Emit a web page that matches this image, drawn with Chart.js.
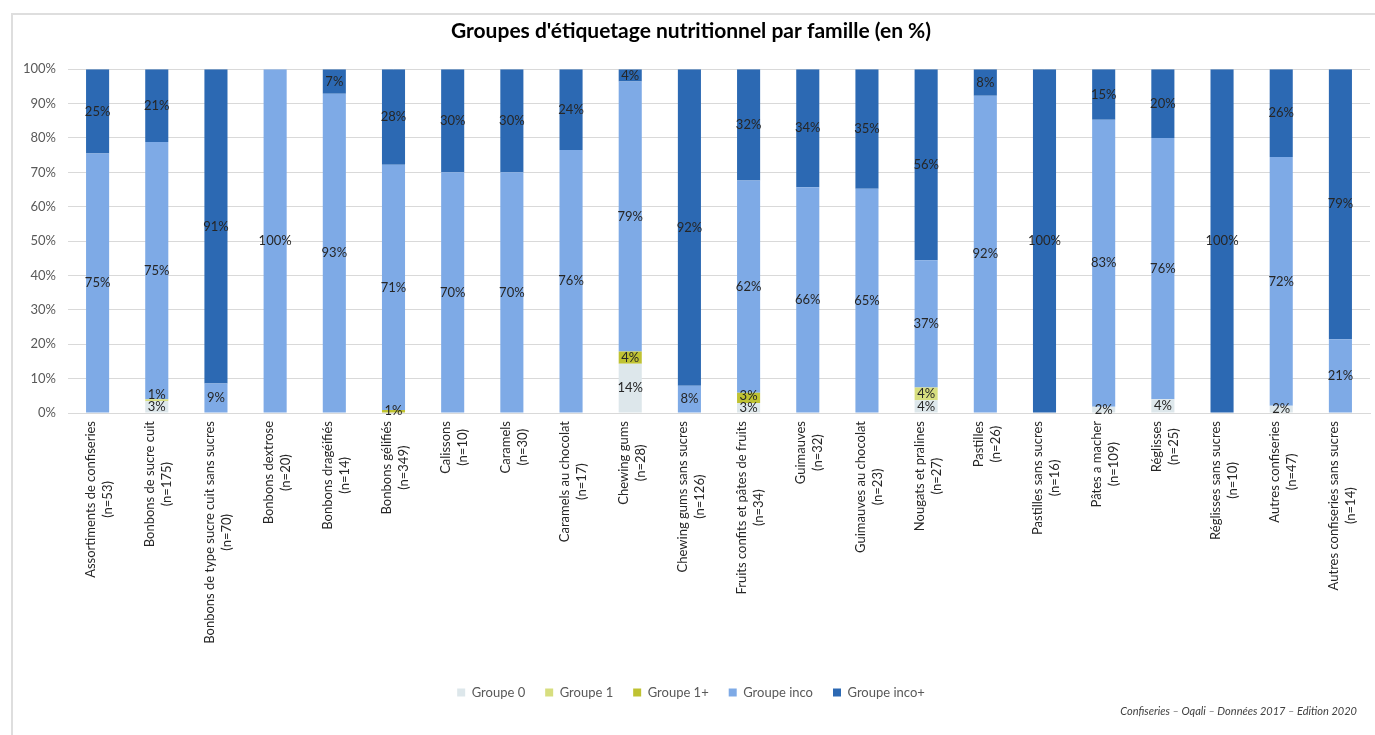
<!DOCTYPE html>
<html lang="fr">
<head>
<meta charset="utf-8">
<title>Groupes d'étiquetage nutritionnel par famille</title>
<script src="https://cdn.jsdelivr.net/npm/chart.js@4.4.1/dist/chart.umd.min.js"></script>
<style>
    html, body { margin: 0; padding: 0; background: #fff; overflow: hidden; }
    #wrap { position: relative; width: 1375px; height: 735px; }
    #frame {
        position: absolute; left: 11px; top: 13px; width: 1400px; height: 800px;
        border-left: 2px solid #dedede; border-top: 2px solid #dedede;
    }
    #chart-box { position: absolute; left: 0; top: 0; width: 1375px; height: 735px; }
    #footnote {
        position: absolute; right: 18px; top: 704px;
        font-family: Lato, sans-serif; font-style: italic; font-size: 11px; color: #404040;
    }
</style>
</head>
<body>
<div id="wrap">
    <div id="frame"></div>
    <div id="chart-box"><canvas id="groupes-chart"></canvas></div>
    <div id="footnote">Confiseries – Oqali – Données 2017 – Edition 2020</div>
</div>
<script>
// Familles et effectifs
const familles = [
    "Assortiments de confiseries", "Bonbons de sucre cuit", "Bonbons de type sucre cuit sans sucres",
    "Bonbons dextrose", "Bonbons dragéifiés", "Bonbons gélifiés", "Calissons", "Caramels",
    "Caramels au chocolat", "Chewing gums", "Chewing gums sans sucres",
    "Fruits confits et pâtes de fruits", "Guimauves", "Guimauves au chocolat",
    "Nougats et pralines", "Pastilles", "Pastilles sans sucres", "Pâtes a macher",
    "Réglisses", "Réglisses sans sucres", "Autres confiseries", "Autres confiseries sans sucres"
];
const effectifs = [53, 175, 70, 20, 14, 349, 10, 30, 17, 28, 126, 34, 32, 23, 27, 26, 16, 109, 25, 10, 47, 14];

// Parts (%) par groupe
const groupe0 = [0, 3.43, 0, 0, 0, 0, 0, 0, 0, 14.29, 0, 2.94, 0, 0, 3.70, 0, 0, 1.83, 4, 0, 2.13, 0];
const groupe1 = [0, 0.57, 0, 0, 0, 0, 0, 0, 0, 0, 0, 0, 0, 0, 3.70, 0, 0, 0, 0, 0, 0, 0];
const groupe1Plus = [0, 0, 0, 0, 0, 0.86, 0, 0, 0, 3.57, 0, 2.94, 0, 0, 0, 0, 0, 0, 0, 0, 0, 0];
const groupeInco = [75.47, 74.86, 8.57, 100, 92.86, 71.35, 70, 70, 76.47, 78.57, 7.94, 61.76, 65.63, 65.22, 37.04, 92.31, 0, 83.49, 76, 0, 72.34, 21.43];
const groupeIncoPlus = [24.53, 21.14, 91.43, 0, 7.14, 27.79, 30, 30, 23.53, 3.57, 92.06, 32.35, 34.38, 34.78, 55.56, 7.69, 100, 14.68, 20, 100, 25.53, 78.57];

const yTicks = [0, 10, 20, 30, 40, 50, 60, 70, 80, 90, 100];

const FONT = "Lato, 'Liberation Sans', sans-serif";
const labels = familles.map((f, i) => [f, "(n=" + effectifs[i] + ")"]);

// Étiquettes de valeurs centrées dans chaque segment (décalées si chevauchement)
const valueLabels = {
    id: 'valueLabels',
    afterDatasetsDraw(chart) {
        const ctx = chart.ctx;
        ctx.save();
        ctx.font = "13px " + FONT;
        ctx.fillStyle = '#262626';
        ctx.textAlign = 'center';
        ctx.textBaseline = 'middle';
        const lastY = {};
        chart.data.datasets.forEach((ds, di) => {
            const meta = chart.getDatasetMeta(di);
            meta.data.forEach((bar, i) => {
                const v = ds.data[i];
                if (!v) return;
                const p = bar.getProps(['x', 'y', 'base'], true);
                let y = (p.y + p.base) / 2;
                if (lastY[i] !== undefined && lastY[i] - y < 10) y = lastY[i] - 12;
                lastY[i] = y;
                ctx.fillText(Math.round(v) + '%', p.x, y);
            });
        });
        ctx.restore();
    }
};

// Libellés de l'axe X : verticaux, lignes centrées entre elles
const xLabels = {
    id: 'xLabels',
    afterDraw(chart) {
        const ctx = chart.ctx;
        const xs = chart.scales.x;
        const top = chart.chartArea.bottom + 8;
        ctx.save();
        ctx.font = "13px " + FONT;
        ctx.fillStyle = '#262626';
        ctx.textAlign = 'center';
        ctx.textBaseline = 'middle';
        labels.forEach((lines, i) => {
            const x = xs.getPixelForTick(i);
            const maxW = Math.max(...lines.map(l => ctx.measureText(l).width));
            const lh = 17;
            ctx.save();
            ctx.translate(x + 2, top);
            ctx.rotate(-Math.PI / 2);
            lines.forEach((l, k) => {
                ctx.fillText(l, -maxW / 2, (k - (lines.length - 1) / 2) * lh);
            });
            ctx.restore();
        });
        ctx.restore();
    }
};

const ctx = document.getElementById('groupes-chart').getContext('2d');
new Chart(ctx, {
    type: 'bar',
    data: {
        labels: labels,
        datasets: [
            { label: 'Groupe 0', data: groupe0, backgroundColor: '#dde7eb' },
            { label: 'Groupe 1', data: groupe1, backgroundColor: '#d7de7f' },
            { label: 'Groupe 1+', data: groupe1Plus, backgroundColor: '#bfc232' },
            { label: 'Groupe inco', data: groupeInco, backgroundColor: '#7eaae6' },
            { label: 'Groupe inco+', data: groupeIncoPlus, backgroundColor: '#2c69b3' }
        ]
    },
    options: {
        responsive: true,
        maintainAspectRatio: false,
        animation: false,
        datasets: {
            bar: { barPercentage: 0.39, categoryPercentage: 1 }
        },
        layout: { padding: { left: 12, right: 5, top: 8, bottom: 26 } },
        scales: {
            x: {
                stacked: true,
                grid: { display: false },
                border: { color: '#d9d9d9' },
                ticks: { display: false },
                afterFit: (scale) => { scale.height = 253; }
            },
            y: {
                stacked: true,
                min: 0,
                max: 100,
                afterBuildTicks: (scale) => { scale.ticks = yTicks.map(v => ({ value: v })); },
                afterFit: (scale) => { scale.width = 56; },
                grid: { color: '#d9d9d9', drawTicks: false },
                border: { display: false },
                ticks: {
                    padding: 12,
                    color: '#595959',
                    font: { family: FONT, size: 13 },
                    callback: (v) => v + '%'
                }
            }
        },
        plugins: {
            title: {
                display: true,
                text: "Groupes d'étiquetage nutritionnel par famille (en %)",
                color: '#000',
                font: { family: FONT, size: 21, weight: 'bold' },
                padding: { top: 11, bottom: 25 }
            },
            legend: {
                position: 'bottom',
                labels: {
                    boxWidth: 8,
                    boxHeight: 8,
                    padding: 20,
                    color: '#595959',
                    font: { family: FONT, size: 13 }
                }
            },
            tooltip: { enabled: false }
        }
    },
    plugins: [valueLabels, xLabels]
});
</script>
</body>
</html>
